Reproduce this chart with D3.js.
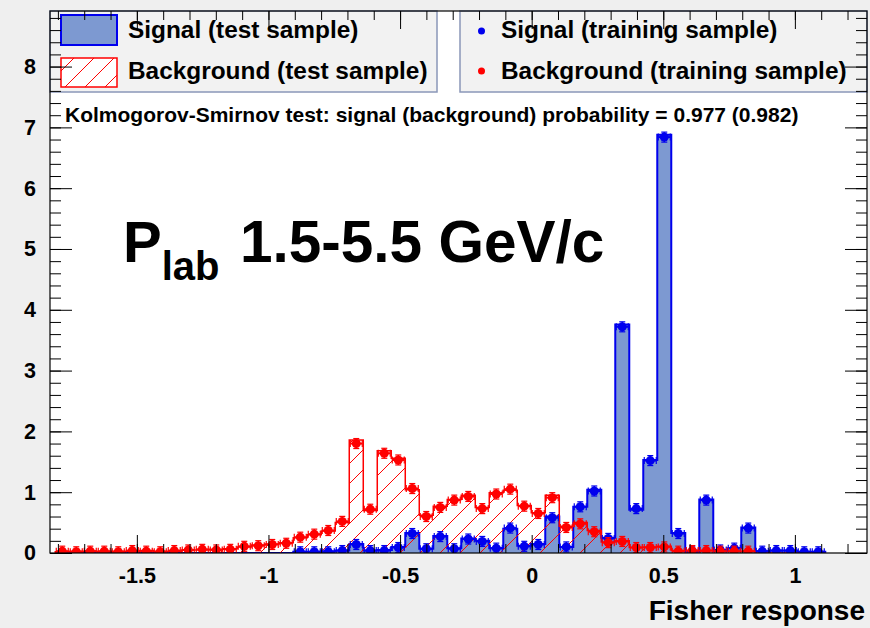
<!DOCTYPE html>
<html>
<head>
<meta charset="utf-8">
<script src="https://cdn.jsdelivr.net/npm/d3@7"></script>
<style>
  html, body { margin: 0; padding: 0; background: #efefef; }
  svg { display: block; font-family: "Liberation Sans", Arial, Helvetica, sans-serif; font-weight: bold; }
</style>
</head>
<body>
<svg id="chart" width="870" height="628"></svg>
<script>
// Fisher discriminant output: 55 equal-width bins
const binCount = 55;
const binStart = -1.810;
const binWidth = 0.05319;

// Signal, test sample (filled histogram)
const signalTest = [
  0, 0, 0, 0, 0, 0, 0, 0, 0, 0, 0, 0, 0, 0, 0, 0, 0,
  0.02, 0.02, 0.03, 0.04, 0.15, 0.04, 0.05, 0.10, 0.33, 0.07,
  0.28, 0.08, 0.24, 0.20, 0.08, 0.40, 0.12, 0.15, 0.60, 0.10,
  0.76, 1.04, 0.25, 3.76, 0.71, 1.53, 6.88, 0.33, 0.02, 0.88,
  0.05, 0.08, 0.42, 0.03, 0.04, 0.04, 0.02, 0.02
];
// Signal, training sample (points)
const signalTrain = [
  0, 0, 0, 0, 0, 0, 0, 0, 0, 0, 0, 0, 0, 0, 0, 0, 0,
  0.02, 0.02, 0.02, 0.04, 0.14, 0.04, 0.04, 0.09, 0.32, 0.07,
  0.27, 0.07, 0.23, 0.19, 0.08, 0.41, 0.11, 0.14, 0.58, 0.10,
  0.76, 1.02, 0.24, 3.72, 0.73, 1.52, 6.84, 0.32, 0.03, 0.87,
  0.05, 0.08, 0.41, 0.03, 0.04, 0.04, 0.02, 0.02
];
// Background, test sample (hatched histogram)
const backgroundTest = [
  0.02, 0.03, 0.03, 0.02, 0.03, 0.03, 0.04, 0.03, 0.03, 0.05,
  0.05, 0.06, 0.07, 0.10, 0.13, 0.15, 0.17, 0.25, 0.30, 0.36,
  0.50, 1.86, 0.70, 1.68, 1.56, 1.04, 0.62, 0.77, 0.88, 0.95,
  0.75, 0.99, 1.03, 0.78, 0.66, 0.95, 0.44, 0.50, 0.37, 0.18,
  0.20, 0.09, 0.10, 0.11, 0.04, 0.04, 0.04, 0.03, 0.03, 0.03,
  0, 0, 0, 0, 0
];
// Background, training sample (points)
const backgroundTrain = [
  0.03, 0.02, 0.03, 0.03, 0.02, 0.04, 0.03, 0.02, 0.04, 0.05,
  0.06, 0.05, 0.06, 0.11, 0.12, 0.14, 0.16, 0.26, 0.31, 0.37,
  0.52, 1.80, 0.72, 1.64, 1.53, 1.06, 0.60, 0.75, 0.87, 0.93,
  0.73, 0.97, 1.05, 0.77, 0.65, 0.91, 0.42, 0.48, 0.35, 0.17,
  0.19, 0.09, 0.09, 0.10, 0.03, 0.04, 0.04, 0.03, 0.03, 0.03,
  0, 0, 0, 0, 0
];

const xMajorTicks = [-1.5, -1, -0.5, 0, 0.5, 1];
const xTickLabels = ["-1.5", "-1", "-0.5", "0", "0.5", "1"];
const yMajorTicks = [0, 1, 2, 3, 4, 5, 6, 7, 8];
const legendLeft = ["Signal (test sample)", "Background (test sample)"];
const legendRight = ["Signal (training sample)", "Background (training sample)"];
const ksText = "Kolmogorov-Smirnov test: signal (background) probability = 0.977 (0.982)";
const xTitle = "Fisher response";

const colSignalFill = "#7d99d1";
const colSignalLine = "#0000ee";
const colBkg = "#ff0000";

const W = 870, H = 628;
const frame = { left: 50, right: 867, top: 11, bottom: 553 };

const svg = d3.select("#chart");
svg.append("rect").attr("width", W).attr("height", H).attr("fill", "#efefef");

const x = d3.scaleLinear().domain([-1.83, 1.274]).range([frame.left, frame.right]);
const y = d3.scaleLinear().domain([0, 8.914]).range([frame.bottom, frame.top]);

const defs = svg.append("defs");
defs.append("clipPath").attr("id", "plotclip").append("rect")
  .attr("x", frame.left).attr("y", frame.top)
  .attr("width", frame.right - frame.left).attr("height", frame.bottom - frame.top);

// plot area
svg.append("rect").attr("x", frame.left).attr("y", frame.top)
  .attr("width", frame.right - frame.left).attr("height", frame.bottom - frame.top)
  .attr("fill", "#ffffff");

const edges = d3.range(binCount + 1).map(i => binStart + i * binWidth);

function histPoints(vals) {
  const pts = vals.map((v, i) => [edges[i], v]);
  pts.push([edges[binCount], vals[binCount - 1]]);
  return pts;
}
const area = d3.area().curve(d3.curveStepAfter)
  .x(d => x(d[0])).y0(y(0)).y1(d => y(d[1]));
function outlinePath(vals) {
  let d = `M${x(edges[0])},${y(0)}`;
  vals.forEach((v, i) => {
    d += `L${x(edges[i])},${y(v)}L${x(edges[i + 1])},${y(v)}`;
  });
  d += `L${x(edges[binCount])},${y(0)}`;
  return d;
}

// "/" hatching inside a clip region
function hatch(parent, clipId, x0, x1, y0, y1, spacing, phase) {
  const g = parent.append("g").attr("clip-path", `url(#${clipId})`);
  const h = y1 - y0;
  for (let c = x0 - h - ((x0 - h - phase) % spacing + spacing) % spacing; c <= x1; c += spacing) {
    g.append("line").attr("x1", c).attr("y1", y1).attr("x2", c + h).attr("y2", y0)
      .attr("stroke", colBkg).attr("stroke-width", 1);
  }
}

const plot = svg.append("g").attr("clip-path", "url(#plotclip)");

// signal test histogram
plot.append("path").attr("d", area(histPoints(signalTest)))
  .attr("fill", colSignalFill).attr("stroke", "none");
plot.append("path").attr("d", outlinePath(signalTest))
  .attr("fill", "none").attr("stroke", colSignalLine).attr("stroke-width", 2);

// background test histogram
defs.append("clipPath").attr("id", "bkgclip").append("path")
  .attr("d", area(histPoints(backgroundTest)));
hatch(plot, "bkgclip", frame.left, frame.right, frame.top, frame.bottom, 20, 0);
plot.append("path").attr("d", outlinePath(backgroundTest))
  .attr("fill", "none").attr("stroke", colBkg).attr("stroke-width", 1.5);

// training samples as points with error bars
function drawPoints(vals, color) {
  const g = plot.append("g");
  vals.forEach((v, i) => {
    if (v <= 0) return;
    const x0 = x(edges[i]), x1 = x(edges[i + 1]), xc = (x0 + x1) / 2, yc = y(v);
    g.append("line").attr("x1", x0 + 1).attr("x2", x1 - 1).attr("y1", yc).attr("y2", yc)
      .attr("stroke", color).attr("stroke-width", 2);
    g.append("line").attr("x1", x0 + 1).attr("x2", x0 + 1).attr("y1", yc - 3.5).attr("y2", yc + 3.5)
      .attr("stroke", color).attr("stroke-width", 1.2);
    g.append("line").attr("x1", x1 - 1).attr("x2", x1 - 1).attr("y1", yc - 3.5).attr("y2", yc + 3.5)
      .attr("stroke", color).attr("stroke-width", 1.2);
    g.append("line").attr("x1", xc).attr("x2", xc).attr("y1", yc - 5).attr("y2", yc + 5)
      .attr("stroke", color).attr("stroke-width", 1.5);
    g.append("line").attr("x1", xc - 3).attr("x2", xc + 3).attr("y1", yc - 5).attr("y2", yc - 5)
      .attr("stroke", color).attr("stroke-width", 1.2);
    g.append("line").attr("x1", xc - 3).attr("x2", xc + 3).attr("y1", yc + 5).attr("y2", yc + 5)
      .attr("stroke", color).attr("stroke-width", 1.2);
    g.append("circle").attr("cx", xc).attr("cy", yc).attr("r", 4.5).attr("fill", color);
  });
}
drawPoints(signalTrain, colSignalLine);
drawPoints(backgroundTrain, colBkg);

// legends
const legBorder = "#8a97b8";
function legendBox(x0, x1) {
  svg.append("rect").attr("x", x0).attr("y", frame.top)
    .attr("width", x1 - x0).attr("height", 92 - frame.top)
    .attr("fill", "#f2f2f2").attr("stroke", legBorder).attr("stroke-width", 1.5);
}
legendBox(frame.left, 437);
legendBox(460, frame.right);

svg.append("rect").attr("x", 61).attr("y", 15).attr("width", 56).attr("height", 30)
  .attr("fill", colSignalFill).attr("stroke", colSignalLine).attr("stroke-width", 2);
const swatch = { x: 61, y: 58, w: 56, h: 29 };
svg.append("rect").attr("x", swatch.x).attr("y", swatch.y).attr("width", swatch.w).attr("height", swatch.h)
  .attr("fill", "#ffffff");
defs.append("clipPath").attr("id", "swatchclip").append("rect")
  .attr("x", swatch.x).attr("y", swatch.y).attr("width", swatch.w).attr("height", swatch.h);
hatch(svg, "swatchclip", swatch.x, swatch.x + swatch.w, swatch.y, swatch.y + swatch.h, 20, 5);
svg.append("rect").attr("x", swatch.x).attr("y", swatch.y).attr("width", swatch.w).attr("height", swatch.h)
  .attr("fill", "none").attr("stroke", colBkg).attr("stroke-width", 1.5);

const legFont = 24.4;
legendLeft.forEach((t, i) => {
  svg.append("text").attr("x", 128).attr("y", 38 + i * 41)
    .attr("font-size", legFont).attr("fill", "#000").text(t);
});
[colSignalLine, colBkg].forEach((c, i) => {
  svg.append("circle").attr("cx", 481.5).attr("cy", 31 + i * 40).attr("r", 3.5).attr("fill", c);
});
legendRight.forEach((t, i) => {
  svg.append("text").attr("x", 501).attr("y", 38 + i * 41)
    .attr("font-size", legFont).attr("fill", "#000").text(t);
});

// KS test line
svg.append("text").attr("x", 65).attr("y", 121.5)
  .attr("font-size", 21).attr("fill", "#000").text(ksText);

// momentum range annotation
const ann = svg.append("text").attr("x", 123).attr("y", 262).attr("fill", "#000");
ann.append("tspan").attr("font-size", 58).text("P");
ann.append("tspan").attr("font-size", 40).attr("dy", 18).text("lab");
ann.append("tspan").attr("x", 240).attr("dy", -18).attr("font-size", 58.5).text("1.5-5.5 GeV/c");

// axes
const axes = svg.append("g");
const xMinor = d3.range(-18, 13).map(i => i / 10);
const yMinor = d3.range(0, 45).map(i => i / 5);

function styleAxis(g) {
  g.select(".domain").remove();
  g.selectAll(".tick line").attr("stroke", "#000").attr("stroke-width", 1);
}

axes.append("g").attr("transform", `translate(0,${frame.bottom})`)
  .call(d3.axisBottom(x).tickValues(xMinor).tickSize(-9).tickFormat(""))
  .call(styleAxis).selectAll("text").remove();
axes.append("g").attr("transform", `translate(0,${frame.bottom})`)
  .call(d3.axisBottom(x).tickValues(xMajorTicks).tickSize(-18).tickPadding(15)
    .tickFormat((d, i) => xTickLabels[i]))
  .call(styleAxis)
  .selectAll("text").attr("font-size", 21.5).attr("font-weight", "bold")
  .attr("font-family", "Liberation Sans, Arial, sans-serif").attr("fill", "#000");

axes.append("g").attr("transform", `translate(0,${frame.top})`)
  .call(d3.axisTop(x).tickValues(xMinor).tickSize(-9).tickFormat(""))
  .call(styleAxis);
axes.append("g").attr("transform", `translate(0,${frame.top})`)
  .call(d3.axisTop(x).tickValues(xMajorTicks).tickSize(-18).tickFormat(""))
  .call(styleAxis);

axes.append("g").attr("transform", `translate(${frame.left},0)`)
  .call(d3.axisLeft(y).tickValues(yMinor).tickSize(-11).tickFormat(""))
  .call(styleAxis);
axes.append("g").attr("transform", `translate(${frame.left},0)`)
  .call(d3.axisLeft(y).tickValues(yMajorTicks).tickSize(-22).tickPadding(14).tickFormat(d3.format("d")))
  .call(styleAxis)
  .selectAll("text").attr("font-size", 21.5).attr("font-weight", "bold")
  .attr("font-family", "Liberation Sans, Arial, sans-serif").attr("fill", "#000");

axes.append("g").attr("transform", `translate(${frame.right},0)`)
  .call(d3.axisRight(y).tickValues(yMinor).tickSize(-11).tickFormat(""))
  .call(styleAxis);
axes.append("g").attr("transform", `translate(${frame.right},0)`)
  .call(d3.axisRight(y).tickValues(yMajorTicks).tickSize(-22).tickFormat(""))
  .call(styleAxis);

// frame
axes.append("rect").attr("x", frame.left).attr("y", frame.top)
  .attr("width", frame.right - frame.left).attr("height", frame.bottom - frame.top)
  .attr("fill", "none").attr("stroke", "#000").attr("stroke-width", 1.2);

// x-axis title
svg.append("text").attr("x", 865).attr("y", 620).attr("text-anchor", "end")
  .attr("font-size", 28).attr("fill", "#000").text(xTitle);
</script>
</body>
</html>
